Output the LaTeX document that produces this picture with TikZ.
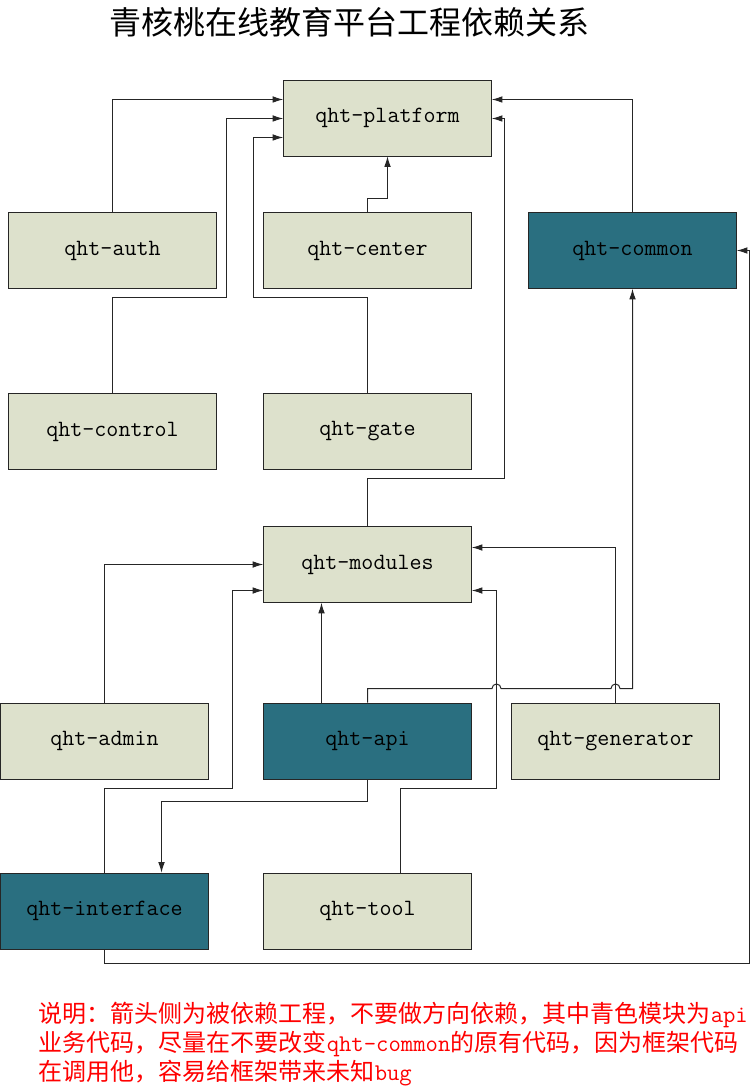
\documentclass[tikz,border=0pt]{standalone}
\usepackage{fontspec}
\newfontfamily\cjk{Noto Sans CJK SC}
\usetikzlibrary{arrows.meta,calc}
\definecolor{modfill}{HTML}{DDE1CC}
\definecolor{apifill}{HTML}{2A6F80}
\tikzset{
  module/.style={draw=black!85,fill=modfill,minimum width=156pt,minimum height=57pt,
    inner sep=0pt,font=\fontsize{17.5}{20}\selectfont\ttfamily},
  apimodule/.style={module,fill=apifill},
  dep/.style={draw=black!85,line width=0.75pt,-{Latex[length=8pt,width=5pt]}},
  jump/.style={start angle=180,end angle=360,radius=4.5}
}

\begin{document}
\begin{tikzpicture}[x=0.75pt,y=-0.75pt]
  \useasboundingbox (-0.5,-0.5) rectangle (749.5,1086.5);
  \node (title) at (349,22) {\cjk\fontsize{24}{28}\selectfont 青核桃在线教育平台工程依赖关系};

  % modules
  \node[module] (platform) at (387,117.5) {qht-platform};
  \node[module] (auth) at (112,250) {qht-auth};
  \node[module] (center) at (367,250) {qht-center};
  \node[apimodule] (common) at (632,250) {qht-common};
  \node[module] (control) at (112,431) {qht-control};
  \node[module] (gate) at (367,431) {qht-gate};
  \node[module] (modules) at (367,564) {qht-modules};
  \node[module] (admin) at (104,740.5) {qht-admin};
  \node[apimodule] (api) at (367,740.5) {qht-api};
  \node[module] (generator) at (615,740.5) {qht-generator};
  \node[apimodule] (interface) at (104,910.5) {qht-interface};
  \node[module] (tool) at (367,910.5) {qht-tool};

  % dependencies
  \draw[dep] (auth.north) |- ($(platform.west)+(0,-18.5)$);
  \draw[dep] (control.north) |- (226,297) |- ($(platform.west)+(0,0.5)$);
  \draw[dep] (gate.north) |- (253,297) |- ($(platform.west)+(0,19.5)$);
  \draw[dep] (center.north) -- ++(0,-14) -| (platform.south);
  \draw[dep] (common.north) |- ($(platform.east)+(0,-18.5)$);
  \draw[dep] (modules.north) |- (504,478) |- ($(platform.east)+(0,0.5)$);
  \draw[dep] (admin.north) |- (modules.west);
  \draw[dep] (interface.north) |- (232,788) |- ($(modules.west)+(0,26)$);
  \draw[dep] ($(api.north)+(-46,0)$) -- ($(modules.south)+(-46,0)$);
  \draw[dep] (api.north) |- (491.5,688) arc[jump] -- (610.5,688) arc[jump] -| (common.south);
  \draw[dep] (generator.north) |- ($(modules.east)+(0,-17)$);
  \draw[dep] ($(tool.north)+(33,0)$) |- (496,788) |- ($(modules.east)+(0,26)$);
  \draw[dep] (api.south) |- (161,801) -- ($(interface.north)+(57,0)$);
  \draw[dep] (interface.south) |- (749,963) |- (common.east);

  \node[anchor=north west,inner sep=0pt,text=red,align=left,
    font=\cjk\fontsize{18}{22}\selectfont] (note) at (38,1001)
    {说明：箭头侧为被依赖工程，不要做方向依赖，其中青色模块为{\ttfamily api}\\
     业务代码，尽量在不要改变{\ttfamily qht-common}的原有代码，因为框架代码\\
     在调用他，容易给框架带来未知{\ttfamily bug}};
\end{tikzpicture}
\end{document}
